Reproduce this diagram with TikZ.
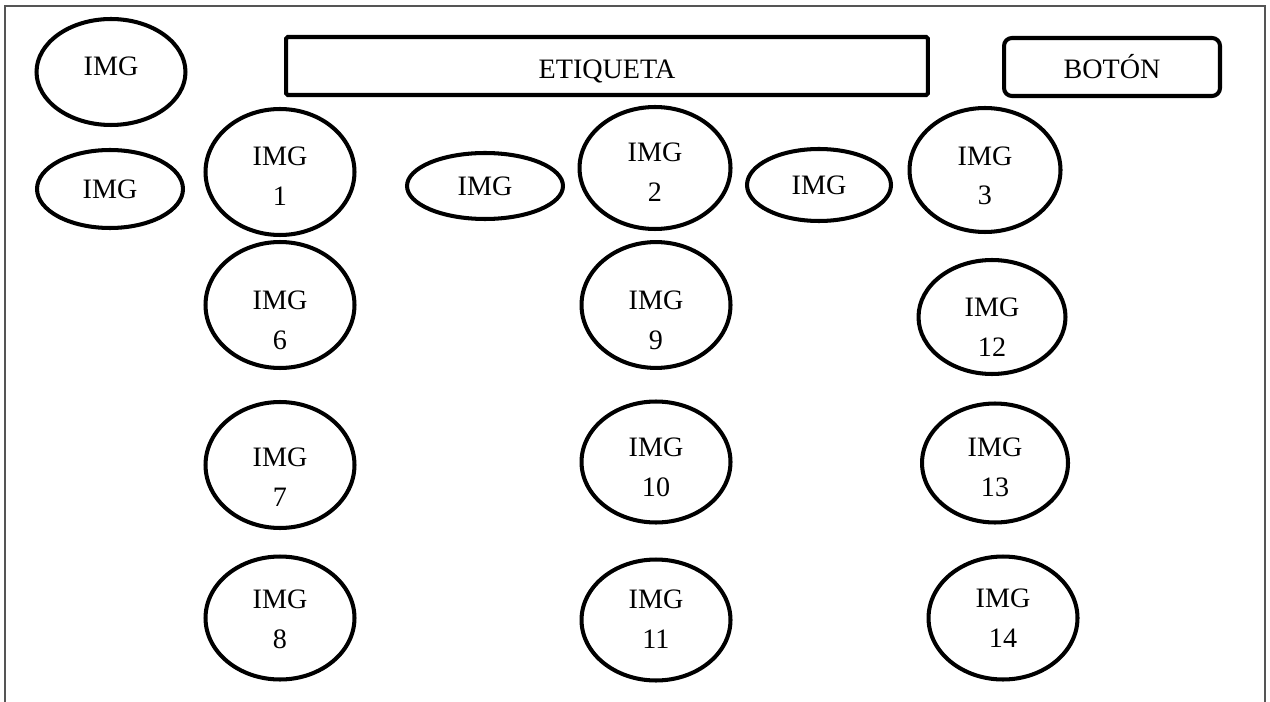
\documentclass[tikz,border=0pt]{standalone}
\usepackage{fontspec}
\setmainfont{Liberation Serif}
\usetikzlibrary{positioning}
\usetikzlibrary{shapes.geometric}
\definecolor{framegray}{HTML}{555555}
\tikzset {
  % image placeholders
  img/.style = {draw, ellipse, line width=2.3pt, inner sep=0pt, align=center,
    minimum width=2.98cm, minimum height=2.5cm,
    font=\fontsize{16}{22.7}\selectfont},
  % two lines of text, pushed down a bit
  twoline/.style = {text height=#1},
  twoline/.default = 38pt,
  % text label and button
  etiq/.style = {draw, rectangle, line width=2.3pt, rounded corners=1pt,
    text height=14pt, text depth=0pt,
    minimum width=12.84cm, minimum height=1.16cm, font=\fontsize{16}{20}\selectfont},
  boton/.style = {draw, rectangle, line width=2.3pt, rounded corners=4.5pt,
    minimum width=4.32cm, minimum height=1.16cm, font=\fontsize{16}{20}\selectfont},
}

\begin{document}
\begin{tikzpicture}[x=0.02cm, y=-0.02cm]
  \useasboundingbox (0,0) rectangle (1270,702);
  % window frame
  \draw[framegray, line width=0.85pt] (5,702) -- (5,6) -- (1265,6) -- (1265,702);

  \node[etiq] (etiqueta) at (607,66) {ETIQUETA};
  \node[boton] (boton) at (1112,67) {BOTÓN};

  % left images
  \node[img, minimum width=2.98cm, minimum height=2.12cm, text height=4.5pt] (imga) at (111,72) {IMG};
  \node[img, minimum width=2.92cm, minimum height=1.56cm] (imgb) at (110,189) {IMG};

  % top row
  \node[img, twoline, minimum height=2.52cm] (img1) at (280,172) {IMG\\1};
  \node[img, minimum width=3.12cm, minimum height=1.32cm] (imgc) at (485,186) {IMG};
  \node[img, twoline, minimum width=3.02cm, minimum height=2.44cm] (img2) at (655,168) {IMG\\2};
  \node[img, minimum width=2.88cm, minimum height=1.44cm] (imgd) at (819,185) {IMG};
  \node[img, twoline=40pt, minimum width=3.02cm, minimum height=2.48cm] (img3) at (985,170) {IMG\\3};

  % first column
  \node[img, twoline=50.5pt, minimum height=2.52cm] (img6) at (280,305) {IMG\\6};
  \node[img, twoline=47pt, minimum height=2.52cm] (img7) at (280,465) {IMG\\7};
  \node[img, twoline=35pt, minimum height=2.46cm] (img8) at (280,618) {IMG\\8};

  % second column
  \node[img, twoline=50.5pt, minimum height=2.44cm] (img9) at (656,305) {IMG\\9};
  \node[img, twoline=39pt, minimum height=2.42cm] (img10) at (656,462) {IMG\\10};
  \node[img, twoline=32pt, minimum height=2.42cm] (img11) at (656,620) {IMG\\11};

  % third column
  \node[img, twoline=45pt, minimum width=2.94cm, minimum height=2.28cm] (img12) at (992,317) {IMG\\12};
  \node[img, twoline=38pt, minimum width=2.92cm, minimum height=2.38cm] (img13) at (995,463) {IMG\\13};
  \node[img, twoline=34pt, minimum height=2.46cm] (img14) at (1003,618) {IMG\\14};
\end{tikzpicture}
\end{document}
